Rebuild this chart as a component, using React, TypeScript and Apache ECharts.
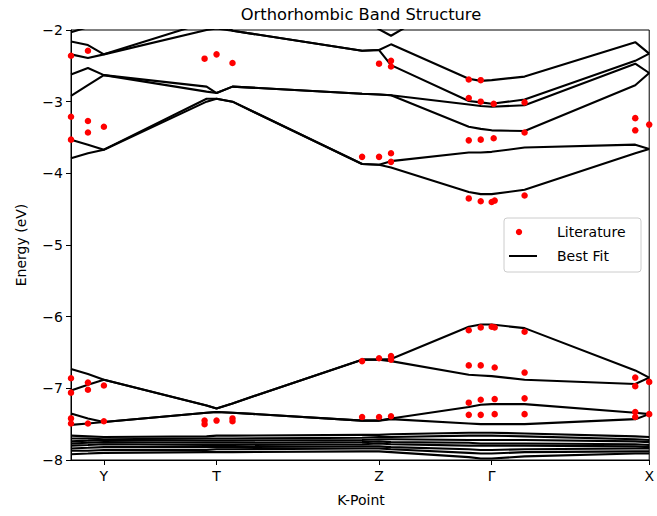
import { useEffect, useRef } from "react";
import * as echarts from "echarts";

// k-path sample points (path distance, arbitrary units)
const kPath = [0, 0.085, 0.165, 0.68, 0.73, 0.81, 1.46, 1.545, 1.605, 1.995, 2.055, 2.11, 2.275, 2.83, 2.9];
const kTickPos = [0.165, 0.73, 1.545, 2.11, 2.9];
const kTickLabels = ["Y", "T", "Z", "Γ", "X"];
const energyTicks = [-8, -7, -6, -5, -4, -3, -2];

// Fitted conduction-side bands (eV) at each kPath point
const upperBands = [
  [-2.03, -1.96, -1.9, -1.5, -1.45, -1.5, -1.7, -1.75, -1.8, -1.7, -1.7, -1.7, -1.7, -1.6, -1.6],
  [-1.6, -1.6, -1.6, -1.7, -1.7, -1.75, -1.85, -1.99, -2.08, -1.45, -1.45, -1.45, -1.5, -1.5, -1.5],
  [-2.16, -2.21, -2.34, -1.89, -1.86, -2.01, -2.29, -2.28, -2.2, -2.68, -2.71, -2.7, -2.65, -2.17, -2.33],
  [-2.34, -2.39, -2.34, -2.0, -1.98, -2.01, -2.29, -2.28, -2.49, -2.99, -3.01, -3.03, -2.97, -2.43, -2.33],
  [-2.62, -2.53, -2.63, -2.79, -2.88, -2.79, -2.89, -2.9, -2.91, -3.04, -3.06, -3.07, -3.05, -2.47, -2.6],
  [-2.92, -2.77, -2.63, -2.86, -2.88, -2.79, -2.89, -2.9, -2.91, -3.35, -3.38, -3.4, -3.41, -2.77, -2.6],
  [-3.53, -3.6, -3.67, -2.96, -2.96, -3.0, -3.87, -3.88, -3.83, -3.71, -3.71, -3.7, -3.64, -3.6, -3.66],
  [-3.79, -3.72, -3.67, -3.0, -2.96, -3.0, -3.87, -3.88, -3.92, -4.26, -4.29, -4.29, -4.23, -3.72, -3.66],
];

// Fitted valence bands (eV)
const valenceBands = [
  [-6.73, -6.8, -6.88, -7.24, -7.28, -7.21, -6.6, -6.6, -6.59, -6.14, -6.11, -6.11, -6.16, -6.75, -6.85],
  [-7.03, -6.95, -6.88, -7.24, -7.28, -7.21, -6.6, -6.6, -6.62, -6.81, -6.82, -6.83, -6.88, -6.94, -6.85],
  [-7.35, -7.42, -7.47, -7.34, -7.33, -7.34, -7.45, -7.45, -7.42, -7.26, -7.23, -7.22, -7.22, -7.34, -7.36],
  [-7.51, -7.49, -7.47, -7.34, -7.33, -7.34, -7.45, -7.45, -7.43, -7.49, -7.5, -7.5, -7.5, -7.43, -7.36],
];

// Deep, nearly flat bands (eV)
const deepBands = [
  [-7.66, -7.67, -7.68, -7.67, -7.66, -7.66, -7.65, -7.65, -7.64, -7.62, -7.62, -7.62, -7.63, -7.67, -7.68],
  [-7.7, -7.7, -7.71, -7.7, -7.7, -7.7, -7.69, -7.68, -7.68, -7.66, -7.66, -7.66, -7.67, -7.71, -7.72],
  [-7.74, -7.73, -7.72, -7.73, -7.73, -7.73, -7.72, -7.71, -7.71, -7.72, -7.72, -7.72, -7.72, -7.74, -7.75],
  [-7.77, -7.76, -7.75, -7.76, -7.76, -7.76, -7.75, -7.74, -7.75, -7.76, -7.77, -7.77, -7.77, -7.78, -7.79],
  [-7.8, -7.79, -7.78, -7.79, -7.79, -7.79, -7.78, -7.77, -7.78, -7.8, -7.8, -7.8, -7.8, -7.81, -7.82],
  [-7.84, -7.83, -7.82, -7.82, -7.82, -7.82, -7.81, -7.81, -7.82, -7.85, -7.86, -7.86, -7.85, -7.84, -7.84],
  [-7.87, -7.87, -7.86, -7.86, -7.85, -7.85, -7.84, -7.84, -7.85, -7.9, -7.91, -7.91, -7.89, -7.88, -7.88],
  [-7.92, -7.91, -7.9, -7.89, -7.89, -7.89, -7.88, -7.88, -7.89, -7.96, -7.98, -7.98, -7.95, -7.91, -7.91],
];

// Literature reference energies
const litK = [
  0, 0.085, 0.67, 0.73, 0.81,
  0, 0.085, 0.085, 0.165, 0,
  1.545, 1.605, 1.605,
  1.46, 1.545, 1.605, 1.605,
  1.995, 2.055,
  1.995, 2.055, 2.12, 2.275,
  1.995, 2.055, 2.12, 2.275,
  1.995, 2.055, 2.11, 2.125, 2.275,
  2.83, 2.83, 2.9,
  0, 0, 0.085, 0.085, 0.165,
  0, 0, 0.085, 0.165,
  0.67, 0.67, 0.73, 0.81, 0.81,
  1.46, 1.545, 1.605, 1.605,
  1.46, 1.545, 1.605,
  1.995, 2.055, 2.11, 2.125, 2.275,
  1.995, 2.055, 2.125, 2.275,
  1.995, 2.055, 2.125, 2.275,
  1.995, 2.055, 2.125, 2.275,
  2.83, 2.83, 2.9,
  2.83, 2.83, 2.9,
];
const litE = [
  -2.36, -2.29, -2.4, -2.34, -2.46,
  -3.21, -3.27, -3.43, -3.35, -3.53,
  -2.47, -2.43, -2.51,
  -3.77, -3.77, -3.72, -3.84,
  -2.69, -2.7,
  -2.95, -3.0, -3.03, -3.01,
  -3.54, -3.53, -3.51, -3.43,
  -4.35, -4.39, -4.4, -4.38, -4.31,
  -3.23, -3.4, -3.32,
  -6.86, -7.06, -6.92, -7.02, -6.96,
  -7.42, -7.49, -7.49, -7.46,
  -7.45, -7.5, -7.45, -7.42, -7.46,
  -6.62, -6.58, -6.55, -6.6,
  -7.4, -7.4, -7.39,
  -6.19, -6.15, -6.14, -6.15, -6.21,
  -6.68, -6.68, -6.71, -6.78,
  -7.2, -7.16, -7.15, -7.14,
  -7.37, -7.37, -7.36, -7.36,
  -6.85, -6.97, -6.91,
  -7.33, -7.4, -7.36,
];

const FONT = "DejaVu Sans";
const minus = (v: number) => (v < 0 ? "\u2212" + Math.abs(v) : String(v));

export default function App() {
  const ref = useRef<HTMLDivElement>(null);

  useEffect(() => {
    document.body.style.margin = "0";
    if (!ref.current) return;
    const chart = echarts.init(ref.current, null, { renderer: "svg" });

    const allBands = [...upperBands, ...valenceBands, ...deepBands];
    const bandSeries = allBands.map((band) => ({
      name: "Best Fit",
      type: "line",
      data: kPath.map((k, i) => [k, band[i]]),
      showSymbol: false,
      symbol: "none",
      lineStyle: { color: "#000", width: 2.1 },
      itemStyle: { color: "#000" },
      silent: true,
      z: 2,
    }));

    const litSeries = {
      name: "Literature",
      type: "scatter",
      data: litK.map((k, i) => [k, litE[i]]),
      symbol: "circle",
      symbolSize: 6.5,
      itemStyle: { color: "#ff0000", opacity: 1 },
      silent: true,
      z: 3,
    };

    const labelFor = (v: number) => {
      let best = 0;
      kTickPos.forEach((p, i) => {
        if (Math.abs(p - v) < Math.abs(kTickPos[best] - v)) best = i;
      });
      return kTickLabels[best];
    };

    chart.setOption({
      animation: false,
      grid: {
        left: 71,
        right: 6,
        top: 30,
        bottom: 56,
        show: true,
        borderColor: "#000",
        borderWidth: 1,
        backgroundColor: "transparent",
      },
      xAxis: {
        type: "value",
        min: 0,
        max: 2.9,
        axisLine: { show: true, lineStyle: { color: "#000", width: 1 } },
        axisTick: {
          show: true,
          inside: false,
          length: 5,
          customValues: kTickPos,
          lineStyle: { color: "#000", width: 1 },
        },
        axisLabel: {
          customValues: kTickPos,
          formatter: (v: number) => labelFor(v),
          color: "#000",
          fontFamily: FONT,
          fontSize: 14,
          margin: 9,
        },
        splitLine: { show: false },
      },
      yAxis: {
        type: "value",
        min: energyTicks[0],
        max: energyTicks[energyTicks.length - 1],
        interval: 1,
        axisLine: { show: true, lineStyle: { color: "#000", width: 1 } },
        axisTick: { show: true, inside: false, length: 5, lineStyle: { color: "#000", width: 1 } },
        axisLabel: {
          formatter: (v: number) => minus(v),
          color: "#000",
          fontFamily: FONT,
          fontSize: 14,
          margin: 8,
        },
        splitLine: { show: false },
      },
      series: [...bandSeries, litSeries],
      graphic: [
        {
          type: "text",
          x: 361,
          y: 14,
          z: 100,
          style: {
            text: "Orthorhombic Band Structure",
            font: `16.3px '${FONT}'`,
            fill: "#000",
            align: "center",
            verticalAlign: "middle",
          },
        },
        {
          type: "text",
          x: 21,
          y: 245,
          rotation: Math.PI / 2,
          z: 100,
          style: {
            text: "Energy (eV)",
            font: `14px '${FONT}'`,
            fill: "#000",
            align: "center",
            verticalAlign: "middle",
          },
        },
        {
          type: "text",
          x: 361,
          y: 500,
          z: 100,
          style: {
            text: "K-Point",
            font: `14px '${FONT}'`,
            fill: "#000",
            align: "center",
            verticalAlign: "middle",
          },
        },
        {
          type: "group",
          z: 100,
          children: [
            {
              type: "rect",
              shape: { x: 504, y: 218, width: 137, height: 54, r: 3 },
              style: { fill: "rgba(255,255,255,0.85)", stroke: "#cccccc", lineWidth: 1 },
              z: 100,
            },
            {
              type: "circle",
              shape: { cx: 519, cy: 232, r: 3.2 },
              style: { fill: "#ff0000" },
              z: 101,
            },
            {
              type: "text",
              x: 557,
              y: 232,
              z: 101,
              style: {
                text: "Literature",
                font: `14px '${FONT}'`,
                fill: "#000",
                align: "left",
                verticalAlign: "middle",
              },
            },
            {
              type: "line",
              shape: { x1: 509, y1: 256, x2: 537, y2: 256 },
              style: { stroke: "#000", lineWidth: 2 },
              z: 101,
            },
            {
              type: "text",
              x: 557,
              y: 256,
              z: 101,
              style: {
                text: "Best Fit",
                font: `14px '${FONT}'`,
                fill: "#000",
                align: "left",
                verticalAlign: "middle",
              },
            },
          ],
        },
      ],
    });

    return () => chart.dispose();
  }, []);

  return <div ref={ref} style={{ width: 657, height: 516 }} />;
}
